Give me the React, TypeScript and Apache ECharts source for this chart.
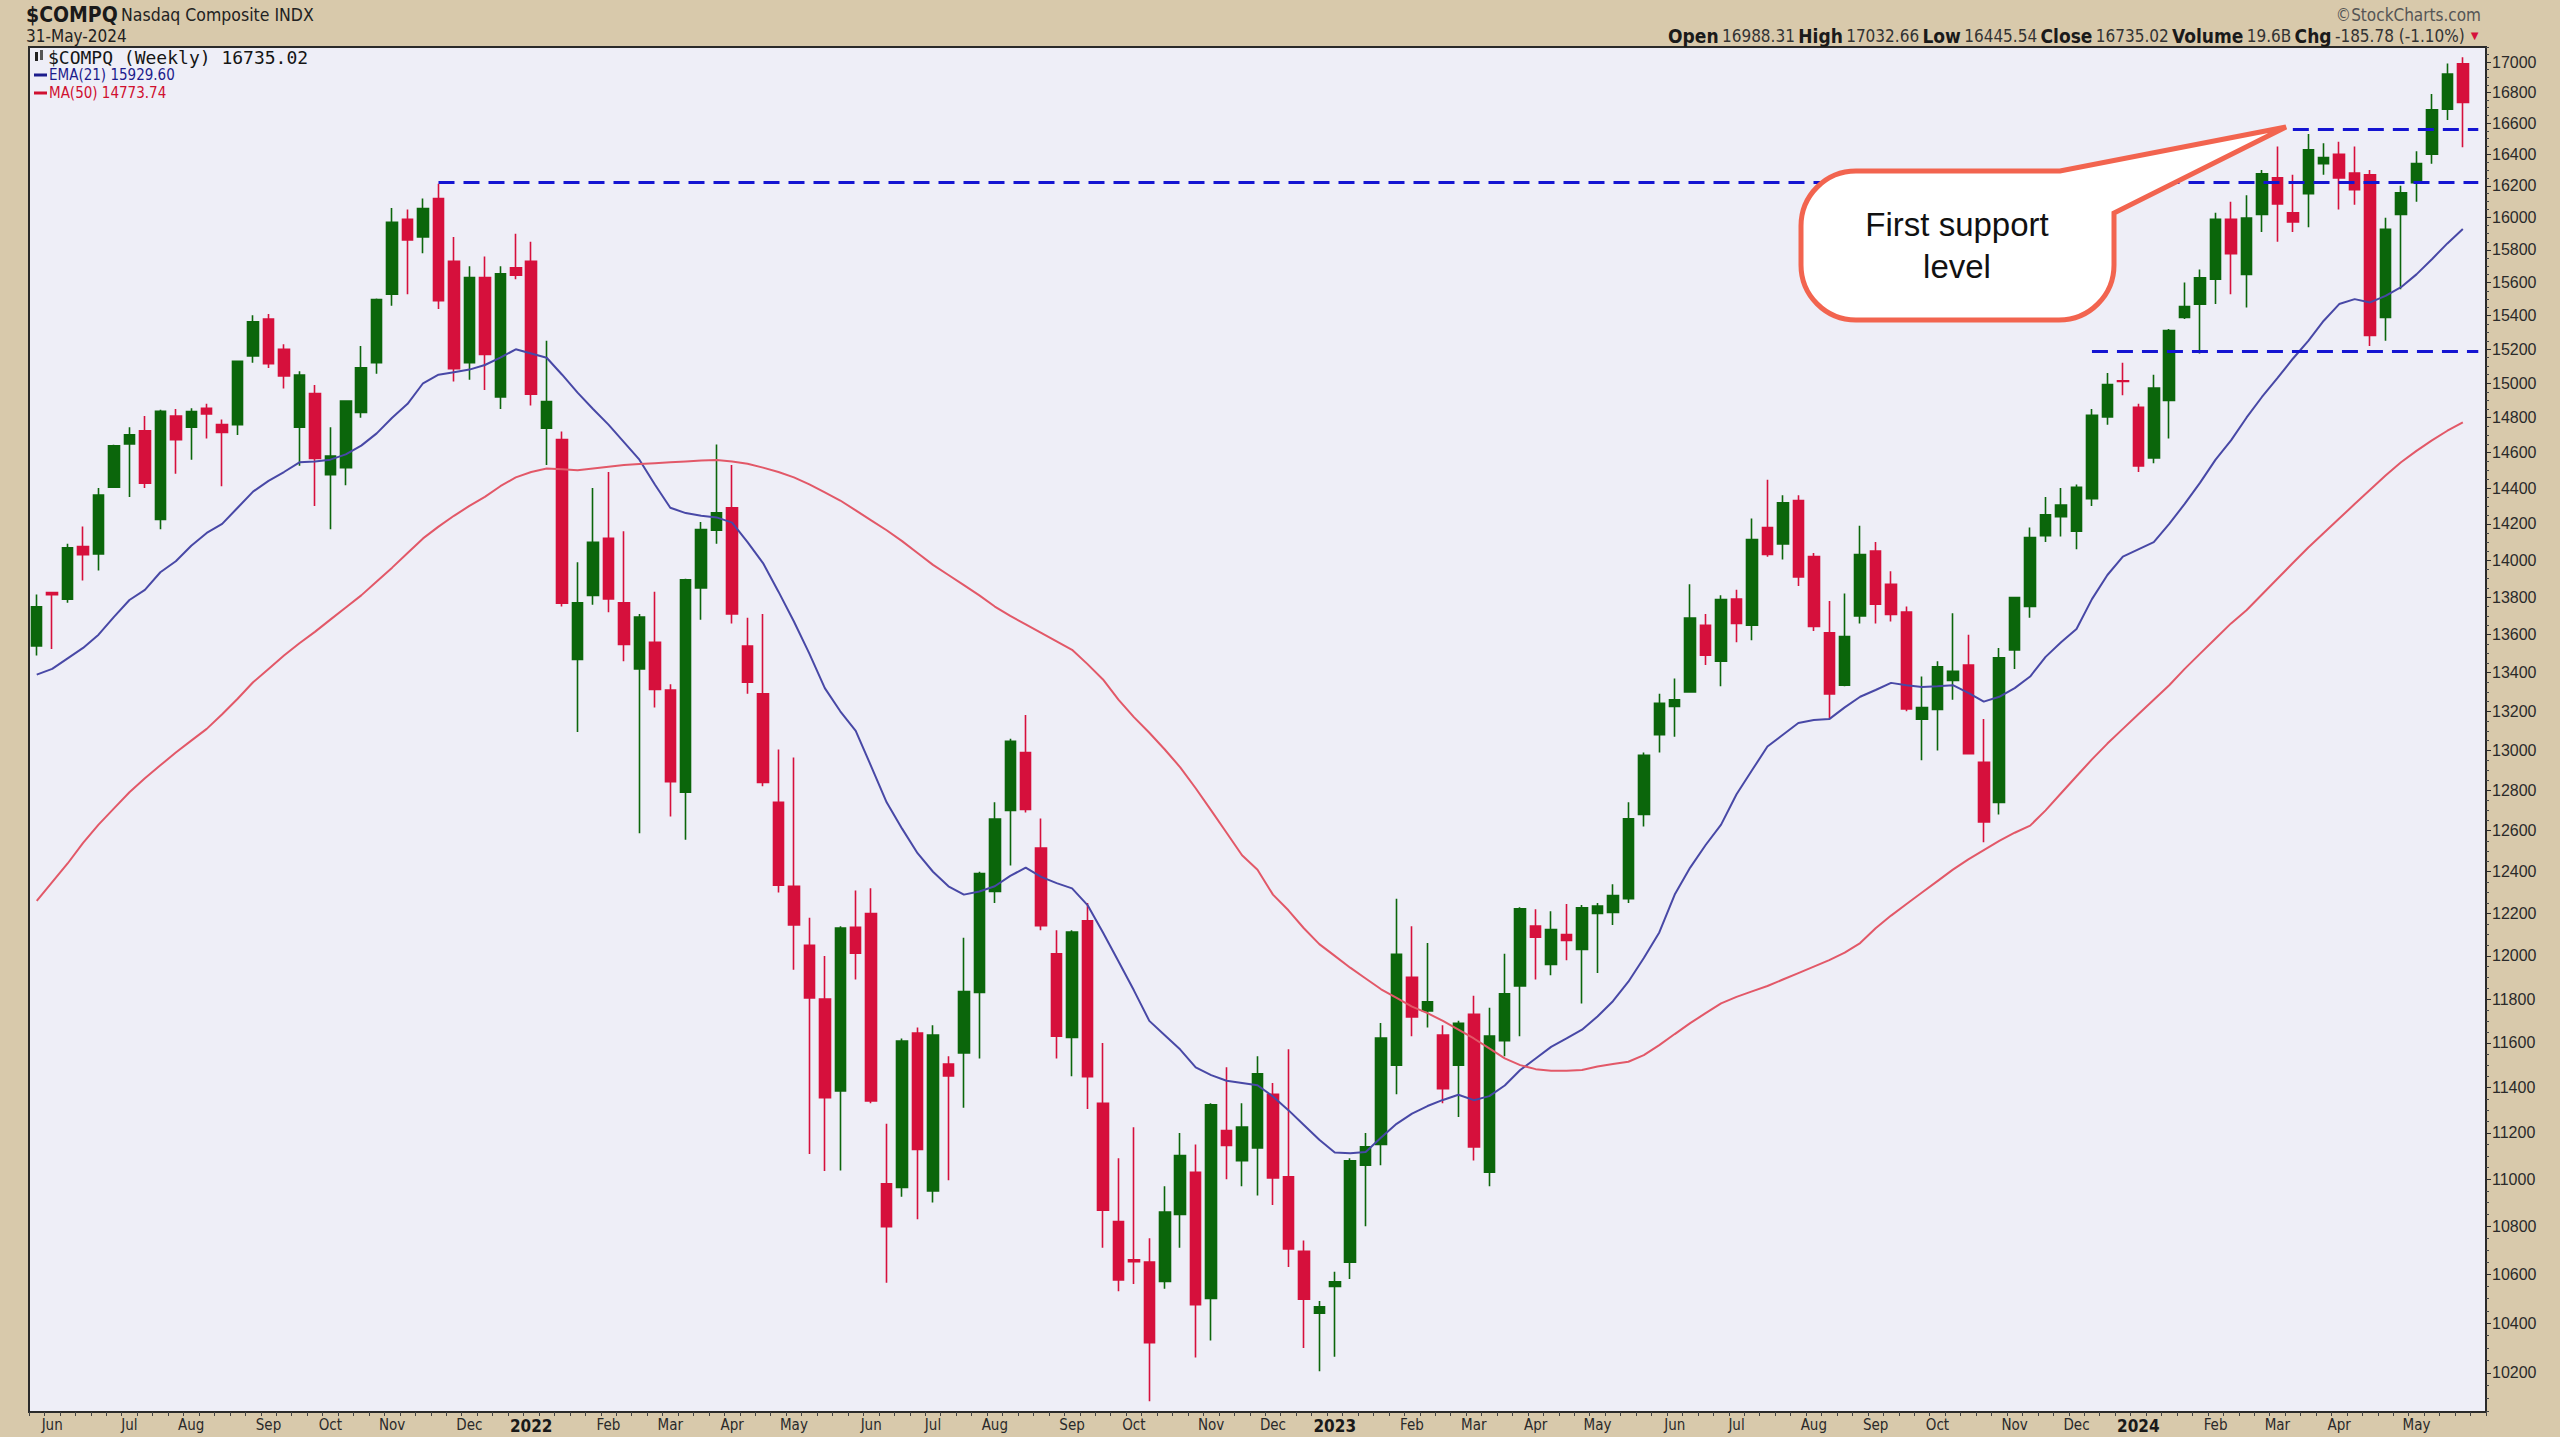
import { useEffect, useRef } from 'react';
import * as echarts from 'echarts';

// ---------- DATA ----------
const FIRST_WEEK_UTC = Date.UTC(2021, 4, 28); // week ending 28-May-2021

const opens = [
  13540, 13825, 13790, 14075, 14035, 14405, 14650, 14725, 14225, 14810, 14745, 14855, 14760, 14760, 15160, 15380, 15200, 14745, 14940, 14475,
  14515, 14830, 15120, 15530, 15990, 15880, 16120, 15730, 15120, 15630, 14920, 15690, 15730, 14740, 14675, 13470, 13810, 14120, 13770, 13420,
  13560, 13310, 12790, 13850, 14165, 14290, 13540, 13290, 12740, 12330, 12050, 11800, 11385, 12135, 12200, 10980, 10965, 11645, 10950, 11505,
  11555, 11830, 12305, 12700, 12990, 12515, 12010, 11625, 12165, 11330, 10820, 10660, 10650, 10570, 10850, 11030, 10500, 11210, 11080, 11135,
  11370, 11010, 10695, 10440, 10550, 10650, 11060, 11150, 11500, 11900, 11745, 11635, 11500, 11730, 11030, 11610, 11860, 12140, 11960, 12100,
  12030, 12200, 12205, 12270, 12680, 13080, 13225, 13300, 13650, 13460, 13790, 13650, 14180, 14090, 14330, 14020, 13610, 13335, 13700, 14050,
  13870, 13720, 13160, 13210, 13360, 13440, 12940, 12740, 13520, 13750, 14135, 14240, 14160, 14340, 14805, 15015, 14860, 14570, 14900, 15390,
  15470, 15620, 15990, 15650, 16020, 16250, 16030, 16150, 16340, 16400, 16280, 16270, 15390, 16020, 16220, 16400, 16690, 16988.31,
];
const highs = [
  13815, 13830, 14090, 14185, 14400, 14645, 14745, 14810, 14846, 14850, 14855, 14880, 14790, 15130, 15403, 15410, 15230, 15070, 14990, 14745,
  14900, 15220, 15504, 16060, 16050, 16120, 16212, 15880, 15700, 15760, 15700, 15900, 15850, 15250, 14720, 13990, 14400, 14490, 14160, 13710,
  13830, 13340, 13900, 14210, 14646, 14530, 13690, 13710, 13005, 12964, 12180, 12000, 12140, 12310, 12320, 11240, 11620, 11670, 11680, 11540,
  12085, 12400, 12740, 13060, 13181, 12660, 12120, 12120, 12250, 11600, 11090, 11225, 10750, 10970, 11200, 11150, 11330, 11490, 11330, 11540,
  11420, 11571, 10740, 10490, 10610, 11090, 11200, 11690, 12270, 12140, 12060, 11680, 11700, 11815, 11760, 12010, 12230, 12220, 12210, 12245,
  12240, 12250, 12340, 12740, 12990, 13290, 13370, 13870, 13710, 13810, 13840, 14230, 14446, 14360, 14360, 14040, 13780, 13820, 14190, 14100,
  13940, 13750, 13380, 13460, 13714, 13600, 13160, 13530, 13800, 14180, 14350, 14400, 14420, 14850, 15060, 15120, 14880, 15050, 15320, 15600,
  15680, 16030, 16100, 16140, 16300, 16449, 16270, 16530, 16470, 16480, 16450, 16300, 16000, 16200, 16420, 16790, 16990, 17032.66,
];
const lows = [
  13490, 13525, 13770, 13890, 13945, 14400, 14350, 14400, 14170, 14480, 14560, 14680, 14410, 14700, 15120, 15090, 14970, 14525, 14300, 14170,
  14415, 14800, 15055, 15460, 15530, 15780, 15440, 15010, 15020, 14960, 14850, 15620, 14870, 14530, 13750, 13094, 13760, 13720, 13460, 12587,
  13220, 12670, 12555, 13680, 14090, 13660, 13290, 12820, 12300, 11935, 11108, 11035, 11037, 11890, 11330, 10565, 10925, 10830, 10900, 10995,
  11310, 11530, 12250, 12430, 12690, 12120, 11530, 11450, 11305, 10710, 10530, 10560, 10088, 10540, 10710, 10262, 10330, 11000, 10970, 10930,
  10890, 10630, 10300, 10207, 10265, 10580, 10800, 11060, 11370, 11630, 11670, 11330, 11270, 11080, 10970, 11540, 11630, 11890, 11910, 11980,
  11780, 11920, 12145, 12250, 12620, 12990, 13070, 13300, 13440, 13330, 13560, 13570, 14020, 14005, 13860, 13620, 13161, 13330, 13660, 13660,
  13670, 13200, 12950, 13000, 13260, 12980, 12543, 12680, 13420, 13690, 14100, 14130, 14060, 14300, 14760, 14930, 14490, 14540, 14680, 15380,
  15175, 15470, 15530, 15450, 15910, 15850, 15910, 15940, 16270, 16050, 16080, 15220, 15250, 15560, 16100, 16340, 16620, 16445.54,
];
const closes = [
  13748, 13814, 14069, 14030, 14360, 14639, 14701, 14427, 14837, 14673, 14835, 14822, 14715, 15129, 15363, 15115, 15043, 15048, 14567, 14580,
  14897, 15090, 15498, 15971, 15861, 16057, 15491, 15085, 15630, 15169, 15653, 15645, 14936, 14893, 13768, 13770, 14098, 13791, 13548, 13694,
  13313, 12843, 13894, 14169, 14261, 13711, 13351, 12839, 12335, 12145, 11805, 11355, 12131, 12013, 11340, 10798, 11608, 11128, 11635, 11452,
  11834, 12391, 12657, 13047, 12705, 12142, 11630, 12112, 11448, 10868, 10576, 10652, 10321, 10860, 11102, 10475, 11324, 11146, 11226, 11461,
  11005, 10705, 10497, 10466, 10569, 11079, 11140, 11622, 12007, 11718, 11787, 11395, 11689, 11139, 11631, 11824, 12222, 12088, 12124, 12073,
  12227, 12235, 12285, 12658, 12976, 13241, 13259, 13689, 13492, 13788, 13660, 14113, 14032, 14317, 13909, 13644, 13290, 13590, 14031, 13762,
  13708, 13212, 13219, 13431, 13407, 12984, 12643, 13478, 13798, 14125, 14250, 14305, 14404, 14814, 14993, 15011, 14524, 14972, 15311, 15455,
  15629, 15990, 15776, 15997, 16275, 16085, 15973, 16429, 16379, 16249, 16175, 15282, 15928, 16156, 16341, 16686, 16921, 16735.02,
];
const ema21 = [
  13390, 13420, 13475, 13530, 13600, 13695, 13785, 13840, 13935, 13995, 14080, 14150, 14200, 14290, 14380, 14440, 14490, 14545, 14550, 14560,
  14590, 14640, 14710, 14800, 14880, 15000, 15050, 15065, 15080, 15107, 15150, 15200, 15175, 15150, 15050, 14945, 14850, 14760, 14660, 14560,
  14420, 14290, 14260, 14245, 14236, 14207, 14100, 13985, 13830, 13670, 13500, 13320, 13200, 13100, 12920, 12740, 12610, 12490, 12400, 12330,
  12290, 12305, 12330, 12380, 12420, 12375, 12345, 12320, 12240, 12110, 11975, 11840, 11700, 11635, 11570, 11490, 11455, 11430, 11420, 11410,
  11360, 11300, 11235, 11170, 11115, 11112, 11117, 11180, 11240, 11285, 11318, 11345, 11368, 11344, 11362, 11409, 11478, 11530, 11582, 11620,
  11660, 11720, 11790, 11880, 11990, 12110, 12290, 12420, 12530, 12630, 12780, 12900, 13020, 13080, 13140, 13155, 13160, 13220, 13275, 13310,
  13347, 13335, 13326, 13330, 13335, 13295, 13250, 13275, 13320, 13380, 13483, 13560, 13630, 13790, 13920, 14020, 14060, 14100, 14200, 14311,
  14430, 14560, 14670, 14800, 14920, 15030, 15144, 15250, 15370, 15470, 15500, 15480, 15520, 15572, 15650, 15743, 15840, 15929.6,
];
const ma50 = [
  12260, 12350, 12440, 12540, 12630, 12710, 12790, 12860, 12925, 12990, 13050, 13110, 13185, 13265, 13350, 13420, 13490, 13555, 13615, 13680,
  13745, 13810, 13885, 13960, 14040, 14120, 14185, 14245, 14300, 14350, 14410, 14460, 14490, 14510, 14505, 14500, 14510, 14520, 14530, 14535,
  14540, 14545, 14550, 14555, 14558, 14550, 14537, 14515, 14490, 14460, 14420, 14375, 14330, 14275, 14220, 14165, 14105, 14040, 13975, 13920,
  13865, 13810, 13750, 13700, 13655, 13610, 13565, 13520, 13445, 13365, 13260, 13170, 13090, 13005, 12915, 12810, 12700, 12590, 12480, 12410,
  12290, 12215, 12130, 12055, 12000, 11945, 11895, 11845, 11805, 11765, 11735, 11700, 11660, 11620, 11575, 11530, 11500, 11482, 11475, 11475,
  11478, 11494, 11505, 11515, 11545, 11590, 11640, 11690, 11735, 11780, 11810, 11835, 11860, 11890, 11920, 11950, 11980, 12015, 12060, 12130,
  12190, 12245, 12300, 12355, 12410, 12460, 12505, 12550, 12590, 12625, 12700, 12785, 12870, 12955, 13035, 13110, 13185, 13260, 13335, 13420,
  13500, 13580, 13660, 13730, 13815, 13900, 13985, 14070, 14150, 14230, 14310, 14390, 14470, 14545, 14610, 14670, 14725, 14773.74,
];
const yTickValues = [
  10200, 10400, 10600, 10800, 11000, 11200, 11400, 11600, 11800, 12000, 12200, 12400, 12600, 12800, 13000, 13200, 13400, 13600,
  13800, 14000, 14200, 14400, 14600, 14800, 15000, 15200, 15400, 15600, 15800, 16000, 16200, 16400, 16600, 16800, 17000,
];
const monthLabels: [string, string][] = [
  ['2021-06-04', 'Jun'], ['2021-07-09', 'Jul'], ['2021-08-06', 'Aug'], ['2021-09-10', 'Sep'], ['2021-10-08', 'Oct'], ['2021-11-05', 'Nov'],
  ['2021-12-10', 'Dec'], ['2022-01-07', '2022'], ['2022-02-11', 'Feb'], ['2022-03-11', 'Mar'], ['2022-04-08', 'Apr'], ['2022-05-06', 'May'],
  ['2022-06-10', 'Jun'], ['2022-07-08', 'Jul'], ['2022-08-05', 'Aug'], ['2022-09-09', 'Sep'], ['2022-10-07', 'Oct'], ['2022-11-11', 'Nov'],
  ['2022-12-09', 'Dec'], ['2023-01-06', '2023'], ['2023-02-10', 'Feb'], ['2023-03-10', 'Mar'], ['2023-04-07', 'Apr'], ['2023-05-05', 'May'],
  ['2023-06-09', 'Jun'], ['2023-07-07', 'Jul'], ['2023-08-11', 'Aug'], ['2023-09-08', 'Sep'], ['2023-10-06', 'Oct'], ['2023-11-10', 'Nov'],
  ['2023-12-08', 'Dec'], ['2024-01-05', '2024'], ['2024-02-09', 'Feb'], ['2024-03-08', 'Mar'], ['2024-04-05', 'Apr'], ['2024-05-10', 'May'],
];
// horizontal support / resistance levels: [value, start week]
const supportLevels: [number, string][] = [
  [16220, '2021-11-26'],
  [16560, '2024-03-15'],
  [15190, '2023-12-15'],
];

// ---------- STYLE ----------
const GREEN = '#0b660b';
const RED = '#d6103c';
const EMA_C = '#4848a6';
const MA_C = '#e25868';
const DASH_C = '#1414d2';
const CALLOUT_C = '#f2644f';
const OUTER_BG = '#d8c9ab';
const PLOT_BG = '#eeeef7';
const NARROW = '"Liberation Sans Narrow", "DejaVu Sans Condensed", "Liberation Sans", Arial, sans-serif';
const SANS = '"Liberation Sans", Arial, sans-serif';

// speech-bubble outline (rounded box + pointer), in page pixels
const CALLOUT_PATH =
  'M 1856 171 L 2060 171 L 2286 127 L 2114 213 L 2114 265 A 55 55 0 0 1 2059 320 ' +
  'L 1856 320 A 55 55 0 0 1 1801 265 L 1801 226 A 55 55 0 0 1 1856 171 Z';
echarts.graphic.registerShape('calloutBubble', echarts.graphic.extendPath(CALLOUT_PATH, {}) as any);

function weekDates(n: number): string[] {
  const out: string[] = [];
  for (let i = 0; i < n; i++) {
    const d = new Date(FIRST_WEEK_UTC + i * 7 * 86400000);
    const mm = String(d.getUTCMonth() + 1).padStart(2, '0');
    const dd = String(d.getUTCDate()).padStart(2, '0');
    out.push(`${d.getUTCFullYear()}-${mm}-${dd}`);
  }
  return out;
}

export default function App() {
  const ref = useRef<HTMLDivElement>(null);
  useEffect(() => {
    if (!ref.current) return;
    const chart = echarts.init(ref.current, null, { renderer: 'svg' });
    const dates = weekDates(opens.length);
    const categories = [...dates, ' ']; // one empty slot on the right
    const padIndex = categories.length - 1;
    const labelMap = new Map(monthLabels);
    const minorTicks: number[] = [];
    for (let v = 10050; v <= 17100; v += 50) if (v % 200 !== 0) minorTicks.push(v);
    const yMin = 10046;
    const yMax = 17100;

    const candleData = opens.map((o, i) => [o, closes[i], lows[i], highs[i]]);

    const option: any = {
      animation: false,
      backgroundColor: OUTER_BG,
      grid: {
        left: 29, right: 74, top: 47, bottom: 25,
        show: true, backgroundColor: PLOT_BG, borderColor: '#2a2a2a', borderWidth: 2,
      },
      xAxis: {
        type: 'category',
        data: categories,
        boundaryGap: true,
        axisLine: { show: true, lineStyle: { color: '#2a2a2a', width: 2 } },
        axisTick: { show: true, interval: 0, length: 4, lineStyle: { color: '#444', width: 1 } },
        axisLabel: {
          interval: (_i: number, v: string) => labelMap.has(v),
          formatter: (v: string) => {
            const t = labelMap.get(v) || '';
            return /^\d{4}$/.test(t) ? `{y|${t}}` : `{m|${t}}`;
          },
          margin: 5,
          rich: {
            m: { fontFamily: NARROW, fontSize: 15, color: '#2a2a2a' },
            y: { fontFamily: NARROW, fontSize: 17, fontWeight: 'bold', color: '#1a1a1a' },
          },
        },
        splitLine: { show: false },
      },
      yAxis: [
        {
          type: 'log', logBase: 10, min: yMin, max: yMax, position: 'right',
          axisLine: { show: true, lineStyle: { color: '#2a2a2a', width: 2 } },
          axisTick: { show: true, customValues: yTickValues, length: 5, lineStyle: { color: '#2a2a2a' } },
          axisLabel: {
            customValues: yTickValues,
            formatter: (v: number) => String(Math.round(v)),
            color: '#2a2a2a', fontFamily: SANS, fontSize: 16, margin: 6,
          },
          splitLine: { show: false },
        },
        {
          type: 'log', logBase: 10, min: yMin, max: yMax, position: 'right',
          axisLine: { show: false },
          axisTick: { show: true, customValues: minorTicks, length: 3, lineStyle: { color: '#444' } },
          axisLabel: { show: false },
          splitLine: { show: false },
        },
      ],
      series: [
        {
          name: '$COMPQ',
          type: 'candlestick',
          data: candleData,
          barWidth: 11,
          z: 2,
          itemStyle: { color: GREEN, color0: RED, borderColor: GREEN, borderColor0: RED, borderWidth: 1.6 },
          markLine: {
            silent: true,
            symbol: ['none', 'none'],
            label: { show: false },
            lineStyle: { color: DASH_C, type: [16, 9], width: 3 },
            data: supportLevels.map(([v, from]) => [
              { coord: [dates.indexOf(from), v] },
              { coord: [padIndex, v] },
            ]),
          },
        },
        {
          name: 'EMA(21)', type: 'line', data: ema21, showSymbol: false, z: 3,
          lineStyle: { color: EMA_C, width: 2 }, itemStyle: { color: EMA_C },
        },
        {
          name: 'MA(50)', type: 'line', data: ma50, showSymbol: false, z: 3,
          lineStyle: { color: MA_C, width: 2 }, itemStyle: { color: MA_C },
        },
      ],
      graphic: [
        // header left
        {
          type: 'text', x: 26, y: 4, z: 50,
          style: {
            text: '{b|$COMPQ} {n|Nasdaq Composite INDX}',
            rich: {
              b: { fontFamily: NARROW, fontSize: 21, fontWeight: 'bold', fill: '#1a1a1a' },
              n: { fontFamily: NARROW, fontSize: 17.5, fill: '#222' },
            },
          },
        },
        {
          type: 'text', x: 26, y: 27, z: 50,
          style: { text: '31-May-2024', fontFamily: NARROW, fontSize: 17, fill: '#222' },
        },
        // header right
        {
          type: 'text', x: 2481, y: 6, z: 50,
          style: { text: '©StockCharts.com', fontFamily: NARROW, fontSize: 17, fill: '#555', textAlign: 'right' },
        },
        {
          type: 'text', x: 2481, y: 26, z: 50,
          style: {
            text: '{b|Open} {n|16988.31} {b|High} {n|17032.66} {b|Low} {n|16445.54} {b|Close} {n|16735.02} {b|Volume} {n|19.6B} {b|Chg} {n|-185.78 (-1.10%)} {r|▼}',
            textAlign: 'right',
            rich: {
              b: { fontFamily: NARROW, fontSize: 19, fontWeight: 'bold', fill: '#1a1a1a' },
              n: { fontFamily: NARROW, fontSize: 17, fill: '#333' },
              r: { fontFamily: SANS, fontSize: 13, fill: '#d6103c' },
            },
          },
        },
        // legend inside the plot
        { type: 'rect', z: 50, shape: { x: 35, y: 52, width: 3, height: 9 }, style: { fill: '#222' } },
        { type: 'rect', z: 50, shape: { x: 40, y: 50, width: 3, height: 10 }, style: { fill: '#555' } },
        {
          type: 'text', x: 48, y: 48, z: 50,
          style: { text: '$COMPQ (Weekly) 16735.02', fontFamily: '"DejaVu Sans Mono", monospace', fontSize: 18, fill: '#151515' },
        },
        { type: 'line', z: 50, shape: { x1: 34, y1: 75, x2: 47, y2: 75 }, style: { stroke: '#1c1c8c', lineWidth: 3 } },
        {
          type: 'text', x: 49, y: 67, z: 50,
          style: { text: 'EMA(21) 15929.60', fontFamily: NARROW, fontSize: 15, fill: '#1c1c8c' },
        },
        { type: 'line', z: 50, shape: { x1: 34, y1: 93, x2: 47, y2: 93 }, style: { stroke: '#d01030', lineWidth: 3 } },
        {
          type: 'text', x: 49, y: 85, z: 50,
          style: { text: 'MA(50) 14773.74', fontFamily: NARROW, fontSize: 15, fill: '#d01030' },
        },
        // callout bubble
        {
          type: 'calloutBubble', x: 0, y: 0, scaleX: 1, scaleY: 1, z: 100,
          style: { fill: '#ffffff', stroke: CALLOUT_C, lineWidth: 5, lineJoin: 'miter' },
        },
        {
          type: 'text', x: 1957, y: 245, z: 103,
          style: {
            text: 'First support\nlevel', fontFamily: SANS, fontSize: 33, lineHeight: 42,
            fill: '#111', textAlign: 'center', textVerticalAlign: 'middle',
          },
        },
      ],
    };
    chart.setOption(option);
    return () => chart.dispose();
  }, []);
  return <div ref={ref} style={{ position: 'absolute', left: 0, top: 0, width: 2560, height: 1437 }} />;
}
